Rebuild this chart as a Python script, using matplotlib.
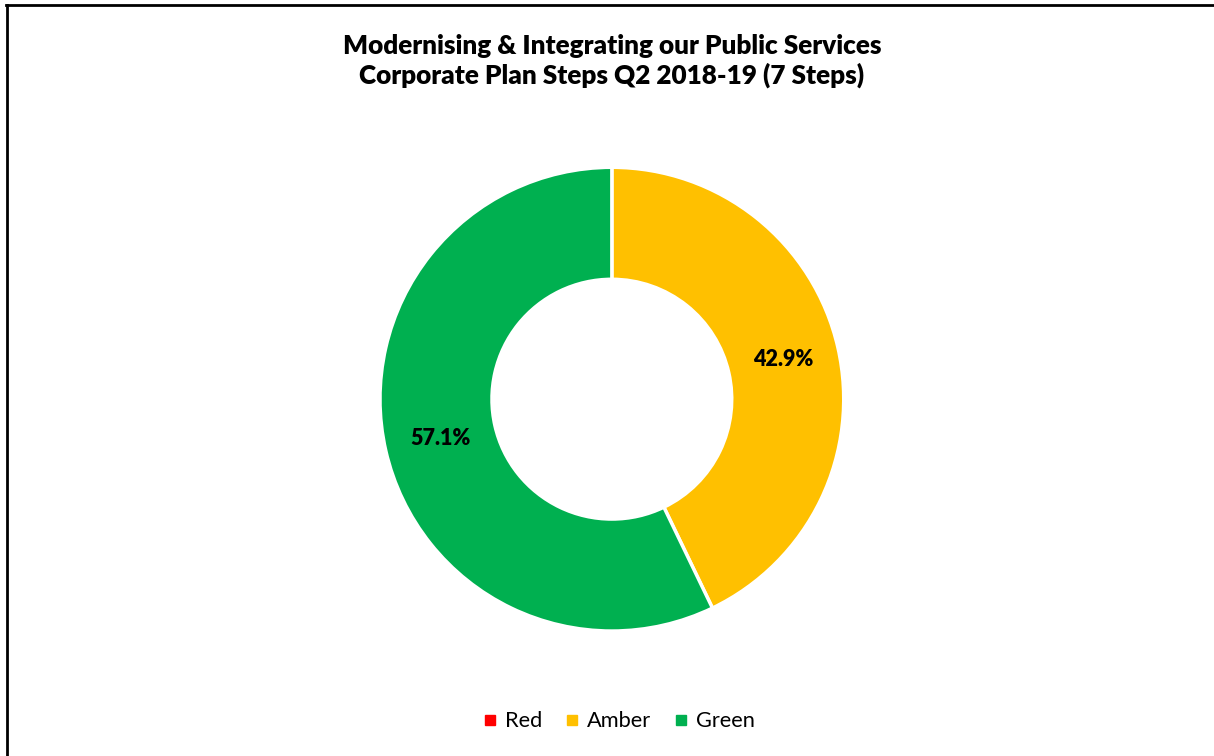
import matplotlib.pyplot as plt
from matplotlib.lines import Line2D

# data
categories = ['Red', 'Amber', 'Green']
steps = [0, 3, 4]
colours = ['#FF0000', '#FFC000', '#00B050']
title_lines = ['Modernising & Integrating our Public Services',
               'Corporate Plan Steps Q2 2018-19 (7 Steps)']

plt.rcParams['font.family'] = ['Lato', 'DejaVu Sans']

fig = plt.figure(figsize=(12.14, 7.56), dpi=100)
ax = fig.add_axes([0.313, 0.165, 0.382, 0.614])


def fmt_pct(p):
    return '' if p < 0.05 else '{:.1f}%'.format(p)


wedges, texts, autotexts = ax.pie(steps, colors=colours, startangle=90, counterclock=False,
                                  autopct=fmt_pct, pctdistance=0.76,
                                  wedgeprops=dict(width=0.483, edgecolor='white', linewidth=2.5),
                                  textprops=dict(fontsize=15.5, fontweight='heavy', color='black'))
ax.set_aspect('equal')
ax.set_xlim(-1, 1)
ax.set_ylim(-1, 1)

fig.text(0.504, 0.919, '\n'.join(title_lines), ha='center', va='center',
         fontsize=18.8, fontweight='heavy', linespacing=1.22)

handles = [Line2D([], [], marker='s', linestyle='', markersize=6.5, color=c) for c in colours]
fig.legend(handles, categories, loc='center', bbox_to_anchor=(0.509, 0.046), ncol=3,
           frameon=False, fontsize=15.7, handletextpad=0.3, columnspacing=0.95, handlelength=0.8)

# partial frame round the chart area
fig.add_artist(Line2D([0.006, 0.006], [0, 0.993], color='black', linewidth=2, transform=fig.transFigure))
fig.add_artist(Line2D([0.005, 1], [0.993, 0.993], color='black', linewidth=2, transform=fig.transFigure))

fig.savefig('out.png', dpi=100, facecolor='white')
